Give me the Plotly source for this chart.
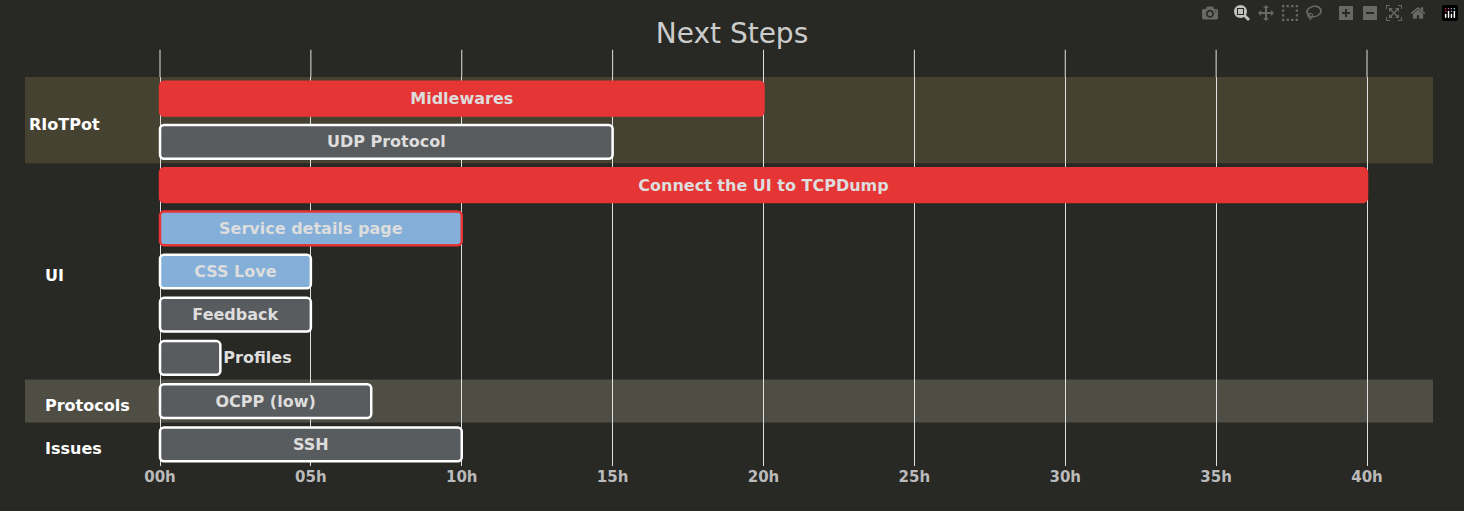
import plotly.graph_objects as go

# data
tasks = ["Midlewares", "UDP Protocol", "Connect the UI to TCPDump", "Service details page",
         "CSS Love", "Feedback", "Profiles", "OCPP (low)", "SSH"]
durations = [20, 15, 40, 10, 5, 5, 2, 7, 10]
styles = ["crit", "normal", "crit", "active-crit", "active", "normal", "normal", "normal", "normal"]
sections = ["RIoTPot", "UI", "Protocols", "Issues"]
section_rows = [(0, 1), (2, 6), (7, 7), (8, 8)]
tick_hours = [0, 5, 10, 15, 20, 25, 30, 35, 40]

BG = "#282824"
fills = {"crit": "#e63535", "normal": "#595c5e", "active": "#84afd9", "active-crit": "#84afd9"}
lines = {"crit": "#e63535", "normal": "#ffffff", "active": "#ffffff", "active-crit": "#e63535"}
band_cols = ["#454232", BG, "#4f4e45", BG]
label_px = [27, 43, 43, 43]

fig = go.Figure()
for i, (t, d, s) in enumerate(zip(tasks, durations, styles)):
    outside = t == "Profiles"
    fig.add_trace(go.Bar(
        y=[i], x=[d], base=[0], orientation="h", width=0.78,
        marker=dict(color=fills[s], line=dict(color=lines[s], width=2.5), cornerradius=4),
        text=[f"<b>{t}</b>"], textposition="outside" if outside else "inside",
        insidetextanchor="middle", cliponaxis=False,
        textfont=dict(color="#dddddd", size=16, family="DejaVu Sans"),
        hoverinfo="skip", showlegend=False))

# section bands and labels
for name, (r0, r1), col, lx in zip(sections, section_rows, band_cols, label_px):
    fig.add_shape(type="rect", xref="paper", yref="y", x0=0, x1=1,
                  y0=r0 - 0.5, y1=r1 + 0.5, fillcolor=col, line_width=0, layer="below")
    fig.add_annotation(xref="paper", yref="y", x=(lx - 25) / 1408, y=(r0 + r1) / 2 + 0.1,
                       text=f"<b>{name}</b>", showarrow=False, xanchor="left",
                       font=dict(color="#ffffff", size=16, family="DejaVu Sans"))

px_per_h = (1367 - 160) / 40
xmin = -(160 - 25) / px_per_h
xmax = xmin + 1408 / px_per_h

fig.update_layout(
    width=1464, height=511, paper_bgcolor=BG, plot_bgcolor=BG,
    margin=dict(l=25, r=31, t=77, b=45),
    title=dict(text="Next Steps", x=0.5, y=0.955, xanchor="center",
               font=dict(color="#cccccc", size=28, family="DejaVu Sans")),
    xaxis=dict(range=[xmin, xmax], tickvals=tick_hours,
               ticktext=[f"<b>{h:02d}h</b>" for h in tick_hours],
               showgrid=True, gridcolor="#e0e0e0", gridwidth=1, zeroline=False,
               tickfont=dict(color="#bbbbbb", size=15, family="DejaVu Sans"), ticklen=0),
    yaxis=dict(range=[8.5, -0.5], showticklabels=False, showgrid=False, zeroline=False),
    barmode="overlay",
)
# grid lines extend above the plot area like the original
for h in tick_hours:
    fig.add_shape(type="line", xref="x", yref="paper", x0=h, x1=h, y0=1, y1=1.07,
                  line=dict(color="#e0e0e0", width=1))

fig.write_html("out.html", post_script="document.body.style.margin='0';document.body.style.background='#282824';")
